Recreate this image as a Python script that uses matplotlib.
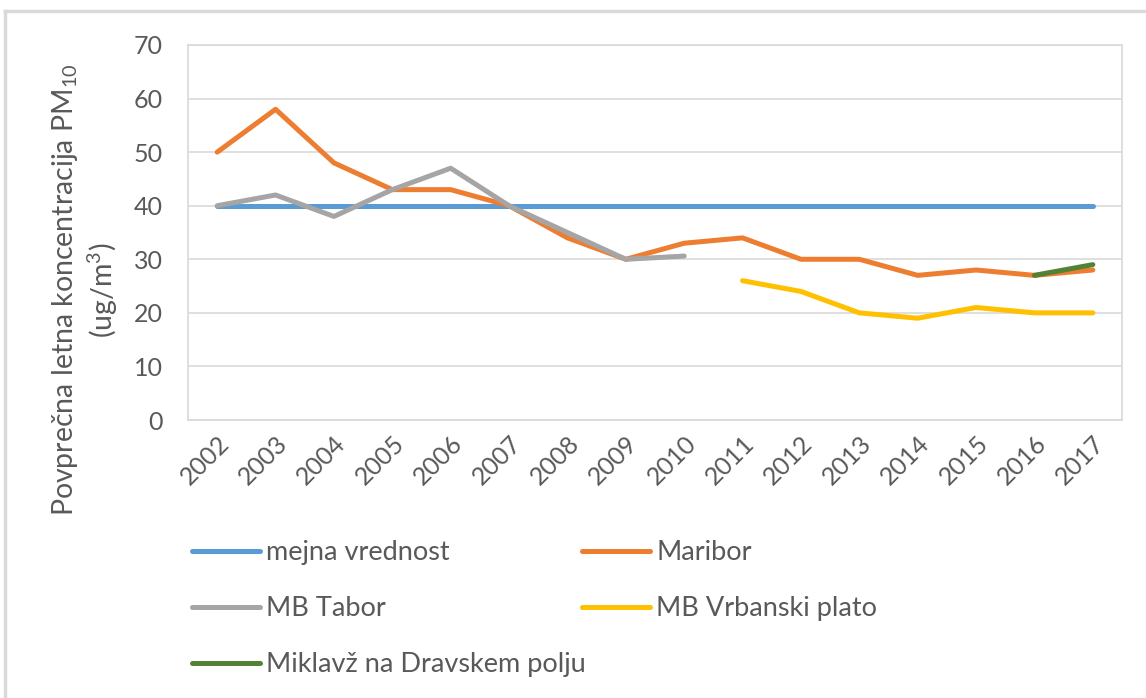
import matplotlib.pyplot as plt
import numpy as np
from matplotlib.lines import Line2D

years = ['2002', '2003', '2004', '2005', '2006', '2007', '2008', '2009',
         '2010', '2011', '2012', '2013', '2014', '2015', '2016', '2017']
nan = np.nan

mejna = [40] * 16
maribor = [50, 58, 48, 43, 43, 40, 34, 30, 33, 34, 30, 30, 27, 28, 27, 28]
tabor = [40, 42, 38, 43, 47, 40, 35, 30, 30.6, nan, nan, nan, nan, nan, nan, nan]
vrbanski = [nan, nan, nan, nan, nan, nan, nan, nan, nan, 26, 24, 20, 19, 21, 20, 20]
miklavz = [nan, nan, nan, nan, nan, nan, nan, nan, nan, nan, nan, nan, nan, nan, 27, 29]

plt.rcParams['font.family'] = ['Lato', 'DejaVu Sans']
plt.rcParams['mathtext.fontset'] = 'custom'
plt.rcParams['mathtext.rm'] = 'Lato'
txt = '#595959'

fig = plt.figure(figsize=(11.46, 6.98), dpi=100)
ax = fig.add_axes([188/1146, 1 - 420/698, (1122-188)/1146, (420-45)/698])

x = np.arange(len(years))
lw = 3.6
ax.plot(x, mejna, color='#5B9BD5', lw=lw, label='mejna vrednost', solid_capstyle='round')
ax.plot(x, maribor, color='#ED7D31', lw=lw, label='Maribor', solid_capstyle='round')
ax.plot(x, tabor, color='#A5A5A5', lw=lw, label='MB Tabor', solid_capstyle='round')
ax.plot(x, vrbanski, color='#FFC000', lw=lw, label='MB Vrbanski plato', solid_capstyle='round')
ax.plot(x, miklavz, color='#548235', lw=lw, label='Miklavž na Dravskem polju', solid_capstyle='round')

ax.set_xlim(-0.5, len(years) - 0.5)
ax.set_ylim(0, 70)
ax.set_yticks(range(0, 71, 10))
ax.set_xticks(x)
ax.set_xticklabels(years, rotation=45, ha='right', rotation_mode='anchor')
ax.tick_params(axis='both', length=0, labelsize=18, colors=txt)
ax.tick_params(axis='y', pad=18)
ax.tick_params(axis='x', pad=8)
ax.grid(axis='y', color='#D9D9D9', lw=1.2)
ax.set_axisbelow(True)
for s in ax.spines.values():
    s.set_color('#D9D9D9')
    s.set_linewidth(1.2)

fig.text(85/1146, 1 - 290/698, 'Povprečna letna koncentracija PM$_{10}$\n(ug/m$^3$)',
         rotation=90, ha='center', va='center', multialignment='center',
         fontsize=20.5, color=txt)

# figure border (top and left)
fig.add_artist(Line2D([0.004, 1], [1 - 11/698, 1 - 11/698], transform=fig.transFigure,
                      color='#D9D9D9', lw=2.5))
fig.add_artist(Line2D([5/1146, 5/1146], [0, 1 - 11/698], transform=fig.transFigure,
                      color='#D9D9D9', lw=2.5))

# legend: two columns placed like Excel (rows, not packed by width)
h, l = ax.get_legend_handles_labels()
legkw = dict(loc='upper left', frameon=False, fontsize=19.5, handlelength=2.5,
             handletextpad=0.25, labelspacing=1.15, borderaxespad=0, borderpad=0)
leg1 = fig.legend([h[0], h[2], h[4]], [l[0], l[2], l[4]],
                  bbox_to_anchor=(192/1146, 1 - 540/698), **legkw)
leg2 = fig.legend([h[1], h[3]], [l[1], l[3]],
                  bbox_to_anchor=(582/1146, 1 - 540/698), **legkw)
for leg in (leg1, leg2):
    for t in leg.get_texts():
        t.set_color(txt)

fig.savefig('out.png', dpi=100)
